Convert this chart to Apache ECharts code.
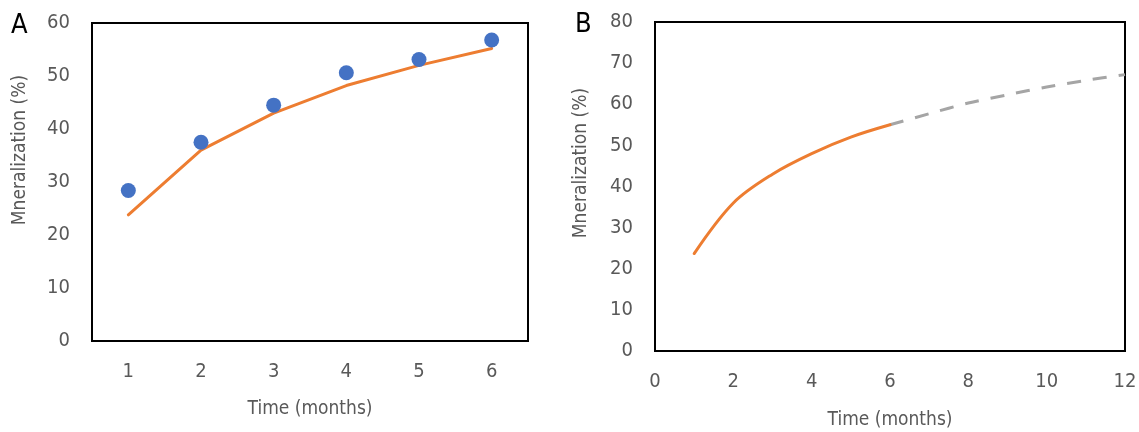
<!DOCTYPE html>
<html>
<head>
<meta charset="utf-8">
<script src="https://cdn.jsdelivr.net/npm/echarts@6/dist/echarts.min.js"></script>
<style>
html,body{margin:0;padding:0;background:#fff;}
#chart{width:1139px;height:432px;}
</style>
</head>
<body>
<div id="chart"></div>
<script>
// Panel A
const monthsA = ['1', '2', '3', '4', '5', '6'];
const measuredA = [28.4, 37.5, 44.5, 50.6, 53.1, 56.8];
const fittedA = [23.8, 36.0, 43.0, 48.2, 52.0, 55.2];
// Panel B
const fittedB = [[1, 23.7], [2, 36.0], [3, 43.0], [4, 48.0], [5, 52.0], [6, 55.0]];
const projectedB = [[6, 55.0], [7, 57.7], [8, 60.3], [9, 62.3], [10, 64.2], [11, 65.8], [12, 67.2]];
const yTitle = 'Mneralization (%)';
const xTitle = 'Time (months)';

const FONT = '"DejaVu Sans Condensed", "Liberation Sans Narrow", "Noto Sans", sans-serif';
const labelStyle = { color: '#595959', fontSize: 20, fontFamily: FONT };
const nameStyle = { color: '#595959', fontSize: 19, fontFamily: FONT };

const chart = echarts.init(document.getElementById('chart'));
chart.setOption({
  animation: false,
  backgroundColor: '#fff',
  grid: [
    { left: 92, top: 23, width: 436, height: 318, show: true, borderColor: '#000', borderWidth: 2, backgroundColor: 'transparent', containLabel: false, outerBoundsMode: 'none' },
    { left: 655, top: 22, width: 470, height: 329, show: true, borderColor: '#000', borderWidth: 2, backgroundColor: 'transparent', containLabel: false, outerBoundsMode: 'none' }
  ],
  xAxis: [
    {
      gridIndex: 0, type: 'category', data: monthsA, boundaryGap: true,
      axisLine: { show: false }, axisTick: { show: false }, splitLine: { show: false },
      axisLabel: Object.assign({ margin: 21 }, labelStyle),
      name: xTitle, nameLocation: 'middle', nameGap: 59, nameTextStyle: nameStyle
    },
    {
      gridIndex: 1, type: 'value', min: 0, max: 12, interval: 2,
      axisLine: { show: false }, axisTick: { show: false }, splitLine: { show: false },
      axisLabel: Object.assign({ margin: 21 }, labelStyle),
      name: xTitle, nameLocation: 'middle', nameGap: 60, nameTextStyle: nameStyle
    }
  ],
  yAxis: [
    {
      gridIndex: 0, type: 'value', min: 0, max: 60, interval: 10,
      axisLine: { show: false }, axisTick: { show: false }, splitLine: { show: false },
      axisLabel: Object.assign({ margin: 22 }, labelStyle)
    },
    {
      gridIndex: 1, type: 'value', min: 0, max: 80, interval: 10,
      axisLine: { show: false }, axisTick: { show: false }, splitLine: { show: false },
      axisLabel: Object.assign({ margin: 22 }, labelStyle)
    }
  ],
  graphic: [
    { type: 'text', left: 11, top: 12, style: { text: 'A', fontSize: 27, fill: '#000', fontFamily: FONT } },
    { type: 'text', left: 575, top: 11, style: { text: 'B', fontSize: 27, fill: '#000', fontFamily: FONT } },
    { type: 'text', x: 20, y: 150, rotation: Math.PI / 2, style: { text: yTitle, fill: '#595959', fontSize: 19, fontFamily: FONT, align: 'center', verticalAlign: 'middle' } },
    { type: 'text', x: 581, y: 163, rotation: Math.PI / 2, style: { text: yTitle, fill: '#595959', fontSize: 19, fontFamily: FONT, align: 'center', verticalAlign: 'middle' } }
  ],
  series: [
    {
      type: 'line', xAxisIndex: 0, yAxisIndex: 0, data: fittedA, showSymbol: false,
      lineStyle: { color: '#ED7D31', width: 3, cap: 'round' }, z: 2
    },
    {
      type: 'scatter', xAxisIndex: 0, yAxisIndex: 0, data: measuredA, symbolSize: 15,
      itemStyle: { color: '#4472C4', opacity: 1 }, z: 3
    },
    {
      type: 'line', xAxisIndex: 1, yAxisIndex: 1, data: fittedB, showSymbol: false, smooth: 0.35,
      lineStyle: { color: '#ED7D31', width: 3, cap: 'round' }, z: 3
    },
    {
      type: 'line', xAxisIndex: 1, yAxisIndex: 1, data: projectedB, showSymbol: false, smooth: 0.3,
      lineStyle: { color: '#A5A5A5', width: 3, type: [14, 12] }, z: 2
    }
  ]
});
</script>
</body>
</html>
